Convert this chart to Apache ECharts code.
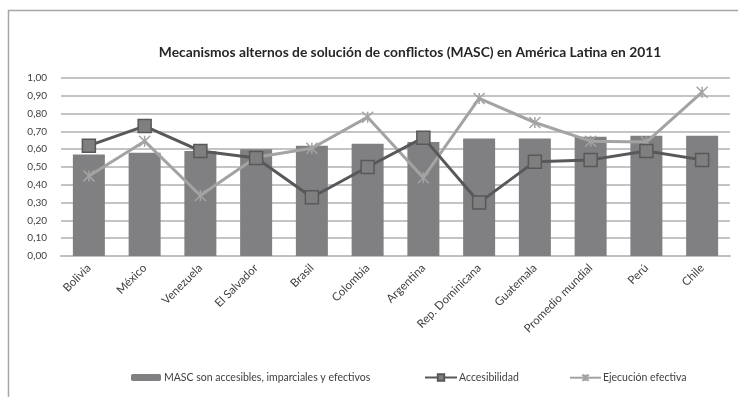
<!DOCTYPE html>
<html>
<head>
<meta charset="utf-8">
<script src="https://cdn.jsdelivr.net/npm/echarts@6/dist/echarts.min.js"></script>
<style>
  html, body { margin: 0; padding: 0; background: #fff; }
  #chart { width: 738px; height: 397px; }
</style>
</head>
<body>
<div id="chart"></div>
<script>
const categories = ['Bolivia', 'México', 'Venezuela', 'El Salvador', 'Brasil', 'Colombia',
  'Argentina', 'Rep. Dominicana', 'Guatemala', 'Promedio mundial', 'Perú', 'Chile'];
const masc = [0.57, 0.58, 0.59, 0.60, 0.62, 0.63, 0.64, 0.66, 0.66, 0.67, 0.675, 0.675];
const accesibilidad = [0.62, 0.73, 0.59, 0.55, 0.33, 0.50, 0.665, 0.30, 0.53, 0.54, 0.59, 0.54];
const ejecucion = [0.45, 0.645, 0.34, 0.555, 0.605, 0.78, 0.44, 0.885, 0.75, 0.645, 0.64, 0.92];
const seriesNames = ['MASC son accesibles, imparciales y efectivos', 'Accesibilidad', 'Ejecución efectiva'];

const FONT = 'Lato, "Open Sans", sans-serif';
const TXT = '#404040';
const starPath = 'path://M0,0L10,10M10,0L0,10M5,0L5,10';

const chart = echarts.init(document.getElementById('chart'));
chart.setOption({
  animation: false,
  backgroundColor: '#fff',
  title: {
    text: 'Mecanismos alternos de solución de conflictos (MASC) en América Latina en 2011',
    left: 405, top: 41, textAlign: 'center',
    textStyle: { fontFamily: FONT, fontSize: 13.8, fontWeight: 'bold', color: '#262626' }
  },
  graphic: [{
    type: 'rect', shape: { x: 8.5, y: 10.5, width: 740, height: 400 },
    style: { fill: 'none', stroke: '#a6a6a6', lineWidth: 1.5 }, silent: true
  }],
  legend: [
    { left: 126, top: 367, data: [seriesNames[0]], itemWidth: 30, itemHeight: 7, itemGap: 4,
      textStyle: { fontFamily: FONT, fontSize: 10.5, color: TXT, padding: [0, 0, 0, -2] } },
    { left: 419, top: 367, data: [seriesNames[1]], itemWidth: 32, itemHeight: 8,
      textStyle: { fontFamily: FONT, fontSize: 10.5, color: TXT, padding: [0, 0, 0, -3] } },
    { left: 564, top: 367, data: [seriesNames[2]], itemWidth: 31, itemHeight: 8,
      textStyle: { fontFamily: FONT, fontSize: 10.5, color: TXT, padding: [0, 0, 0, -3] } }
  ],
  grid: { left: 61, right: 8, top: 78, bottom: 141 },
  xAxis: {
    type: 'category', data: categories,
    axisLine: { lineStyle: { color: '#bfbfbf', width: 2 } },
    axisTick: { show: false },
    axisLabel: { rotate: 45, interval: 0, margin: 10, fontFamily: FONT, fontSize: 11.5, color: TXT }
  },
  yAxis: {
    type: 'value', min: 0, max: 1, interval: 0.1,
    axisLine: { show: false }, axisTick: { show: false },
    splitLine: { lineStyle: { color: '#c4c4c4', width: 2 } },
    axisLabel: {
      margin: 14, fontFamily: FONT, fontSize: 10, color: TXT,
      formatter: v => v.toFixed(2).replace('.', ',')
    }
  },
  series: [
    { name: seriesNames[0], type: 'bar', data: masc, barWidth: 32,
      itemStyle: { color: '#808083' }, z: 1 },
    { name: seriesNames[1], type: 'line', data: accesibilidad, symbol: 'rect', symbolSize: 13,
      lineStyle: { color: '#58585a', width: 3 },
      itemStyle: { color: '#7f7f7f', borderColor: '#58585a', borderWidth: 1.5 }, z: 3 },
    { name: seriesNames[2], type: 'line', data: ejecucion, symbol: starPath, symbolSize: 11,
      lineStyle: { color: '#a3a3a3', width: 3 },
      itemStyle: { color: 'none', borderColor: '#a3a3a3', borderWidth: 1.5 }, z: 2 }
  ]
});
</script>
</body>
</html>
